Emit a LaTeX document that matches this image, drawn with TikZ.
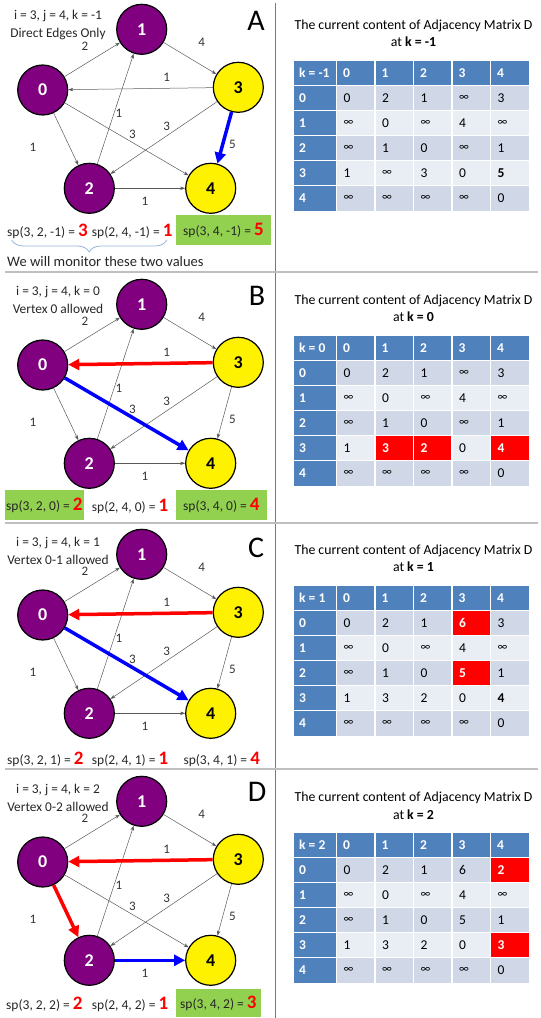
\documentclass[tikz,border=0pt]{standalone}
\usepackage{fontspec}
\setmainfont{Carlito}
\usetikzlibrary{arrows.meta, decorations.pathreplacing}

\definecolor{vpurple}{RGB}{128,0,128}
\definecolor{hdblue}{RGB}{79,129,189}
\definecolor{rowdark}{RGB}{208,216,232}
\definecolor{rowlight}{RGB}{233,237,244}
\definecolor{spgreen}{RGB}{146,208,80}
\definecolor{bracecol}{RGB}{149,179,215}

\protected\def\infsym{{\fontsize{11.5}{11.5}\selectfont ∞}}
\newcommand{\spval}[1]{{\color{red}\fontsize{19}{19}\selectfont\bfseries #1}}

\tikzset{
  purp/.style={circle, draw=black, line width=1.2pt, fill=vpurple, minimum size=50pt,
    inner sep=0pt, text=white, font=\fontsize{18}{18}\selectfont\bfseries},
  yell/.style={purp, fill=yellow, text=black},
  link/.style={draw=black!65, line width=0.5pt, -{Stealth[length=5pt,width=3.5pt]}},
  redpath/.style={draw=red, line width=3.5pt, -{Triangle[length=11pt,width=11pt]}},
  bluepath/.style={redpath, draw=blue},
  wt/.style={font=\fontsize{13}{13}\selectfont, text=black!80},
  info/.style={align=center, font=\fontsize{13.4}{18}\selectfont, text=black!85},
  letter/.style={font=\fontsize{30}{30}\selectfont},
  spnode/.style={anchor=west, inner xsep=0pt, font=\fontsize{13.5}{15}\selectfont, text=black!85},
  spbox/.style={spnode, fill=spgreen, inner xsep=7pt, minimum height=30pt},
  monbrace/.style={decorate, decoration={brace, amplitude=12pt}, draw=bracecol, line width=0.8pt},
  mtitle/.style={align=center, font=\fontsize{13.8}{17.3}\selectfont},
  hd/.style={anchor=west, inner sep=0pt, text=white, font=\fontsize{13.5}{13.5}\selectfont\bfseries},
  cn/.style={anchor=west, inner xsep=7pt, inner ysep=0pt, text width=24.5pt, minimum height=25pt,
    align=left, font=\fontsize{13.5}{13.5}\selectfont},
  cb/.style={cn, font=\fontsize{13.5}{13.5}\selectfont\bfseries},
  cr/.style={cb, fill=red, text=white},
  cellline/.style={draw=white, line width=1.3pt}
}

% the five vertices and the edge weights
\newcommand{\vertices}{%
  \node[purp] (v0) at (42.7,90) {0};
  \node[purp] (v1) at (141.7,29.3) {1};
  \node[purp] (v2) at (89.3,188.3) {2};
  \node[yell] (v3) at (238.3,87.3) {3};
  \node[yell] (v4) at (210.7,188.3) {4};
  \foreach \x/\y/\w [count=\i] in {85/46.7/2, 201.7/42.7/4, 166.7/77.3/1, 119/113.3/1,
      166.7/126/3, 132.3/134/3, 232.3/144/5, 33/147.3/1, 145/201/1}
    \node[wt] (w\i) at (\x,\y) {\w};
}

% matrix D: #1 = k, #2 = rows (value/style)
\newcommand{\adjmatrix}[2]{%
  \node[mtitle] (ttl) at (413.5,33.6) {The current content of Adjacency Matrix D\\at \textbf{k = #1}};
  \begin{scope}[shift={(294,60.7)}]
    \fill[hdblue] (0,0) rectangle (235,25);
    \fill[hdblue] (0,25) rectangle (42.5,150);
    \foreach \r in {0,2,4} \fill[rowdark] (42.5,25+25*\r) rectangle (235,50+25*\r);
    \foreach \r in {1,3} \fill[rowlight] (42.5,25+25*\r) rectangle (235,50+25*\r);
    \node[hd] (kk) at (5,12.5) {k = #1};
    \foreach \c in {0,...,4} {
      \node[hd] (col\c) at ({49+38.5*\c},12.5) {\c};
      \node[hd] (row\c) at (5,{37.5+25*\c}) {\c};
    }
    \foreach \r/\vals in {#2} {
      \foreach \v/\s [count=\c from 0] in \vals
        \node[c\s] (m\r\c) at ({42.5+38.5*\c},{37.5+25*\r}) {\v};
    }
    \foreach \c in {0,...,4} \draw[cellline] ({42.5+38.5*\c},0) -- ++(0,150);
    \foreach \r in {1,...,5} \draw[cellline] (0,25*\r) -- (235,25*\r);
  \end{scope}
}

\begin{document}
\begin{tikzpicture}[x=1pt, y=-1pt]
  \useasboundingbox (0,0) rectangle (541,1018);
  % frame lines
  \draw[draw=hdblue, line width=1.5pt] (275.5,3) -- (275.5,1018);
  \foreach \y in {272,523,769} \draw[draw=black!25, line width=1.5pt] (5,\y) -- (538,\y);

  % A: direct edges only
  \begin{scope}[name prefix=a-]
    \vertices
    \foreach \s/\t in {v0/v1, v1/v3, v3/v0, v0/v2, v2/v1, v3/v2, v0/v4, v2/v4}
      \draw[link] (\s) -- (\t);
    \draw[bluepath] (v3) -- (v4);
    \node[info] (ijk) at (58,25) {i = 3, j = 4, k = -1\\Direct Edges Only};
    \node[letter] (tag) at (256,21) {A};
    \node[spnode] (sp1) at (7,231) {sp(3, 2, -1) = \spval{3}};
    \node[spnode] (sp2) at (91.7,231) {sp(2, 4, -1) = \spval{1}};
    \node[spbox] (sp3) at (176,230) {sp(3, 4, -1) = \spval{5}};
    \draw[monbrace] (166.7,240) -- (11.7,240);
    \node[spnode, font=\fontsize{14.5}{16}\selectfont] (mon) at (7,262) {We will monitor these two values};
    \adjmatrix{-1}{0/{0/n,2/n,1/n,\infsym/n,3/n}, 1/{\infsym/n,0/n,\infsym/n,4/n,\infsym/n},
      2/{\infsym/n,1/n,0/n,\infsym/n,1/n}, 3/{1/n,\infsym/n,3/n,0/n,5/b},
      4/{\infsym/n,\infsym/n,\infsym/n,\infsym/n,0/n}}
  \end{scope}

  % B: vertex 0 allowed
  \begin{scope}[shift={(0,275)}, name prefix=b-]
    \vertices
    \foreach \s/\t in {v0/v1, v1/v3, v0/v2, v2/v1, v3/v2, v3/v4, v2/v4}
      \draw[link] (\s) -- (\t);
    \draw[redpath] (v3) -- (v0);
    \draw[bluepath] (v0) -- (v4);
    \node[info] (ijk) at (58,25) {i = 3, j = 4, k = 0\\Vertex 0 allowed};
    \node[letter] (tag) at (257,21) {B};
    \node[spbox, inner xsep=1.5pt] (sp1) at (4.5,230) {sp(3, 2, 0) = \spval{2}};
    \node[spnode] (sp2) at (91.7,231.5) {sp(2, 4, 0) = \spval{1}};
    \node[spbox] (sp3) at (176,230) {sp(3, 4, 0) = \spval{4}};
    \adjmatrix{0}{0/{0/n,2/n,1/n,\infsym/n,3/n}, 1/{\infsym/n,0/n,\infsym/n,4/n,\infsym/n},
      2/{\infsym/n,1/n,0/n,\infsym/n,1/n}, 3/{1/n,3/r,2/r,0/n,4/r},
      4/{\infsym/n,\infsym/n,\infsym/n,\infsym/n,0/n}}
  \end{scope}

  % C: vertex 0-1 allowed
  \begin{scope}[shift={(0,525)}, name prefix=c-]
    \vertices
    \foreach \s/\t in {v0/v1, v1/v3, v0/v2, v2/v1, v3/v2, v3/v4, v2/v4}
      \draw[link] (\s) -- (\t);
    \draw[redpath] (v3) -- (v0);
    \draw[bluepath] (v0) -- (v4);
    \node[info] (ijk) at (58,26) {i = 3, j = 4, k = 1\\Vertex 0-1 allowed};
    \node[letter] (tag) at (256,23) {C};
    \node[spnode] (sp1) at (7,234) {sp(3, 2, 1) = \spval{2}};
    \node[spnode] (sp2) at (91.7,234) {sp(2, 4, 1) = \spval{1}};
    \node[spnode] (sp3) at (183.3,234) {sp(3, 4, 1) = \spval{4}};
    \adjmatrix{1}{0/{0/n,2/n,1/n,6/r,3/n}, 1/{\infsym/n,0/n,\infsym/n,4/n,\infsym/n},
      2/{\infsym/n,1/n,0/n,5/r,1/n}, 3/{1/n,3/n,2/n,0/n,4/b},
      4/{\infsym/n,\infsym/n,\infsym/n,\infsym/n,0/n}}
  \end{scope}

  % D: vertex 0-2 allowed
  \begin{scope}[shift={(0,772)}, name prefix=d-]
    \vertices
    \foreach \s/\t in {v0/v1, v1/v3, v2/v1, v3/v2, v3/v4, v0/v4}
      \draw[link] (\s) -- (\t);
    \draw[redpath] (v3) -- (v0);
    \draw[redpath] (v0) -- (v2);
    \draw[bluepath] (v2) -- (v4);
    \node[info] (ijk) at (58,26) {i = 3, j = 4, k = 2\\Vertex 0-2 allowed};
    \node[letter] (tag) at (257,20) {D};
    \node[spnode] (sp1) at (6,232.5) {sp(3, 2, 2) = \spval{2}};
    \node[spnode] (sp2) at (91.7,232.5) {sp(2, 4, 2) = \spval{1}};
    \node[spbox, inner xsep=4pt, minimum height=28pt] (sp3) at (176,231) {sp(3, 4, 2) = \spval{3}};
    \adjmatrix{2}{0/{0/n,2/n,1/n,6/n,2/r}, 1/{\infsym/n,0/n,\infsym/n,4/n,\infsym/n},
      2/{\infsym/n,1/n,0/n,5/n,1/n}, 3/{1/n,3/n,2/n,0/n,3/r},
      4/{\infsym/n,\infsym/n,\infsym/n,\infsym/n,0/n}}
  \end{scope}
\end{tikzpicture}
\end{document}
